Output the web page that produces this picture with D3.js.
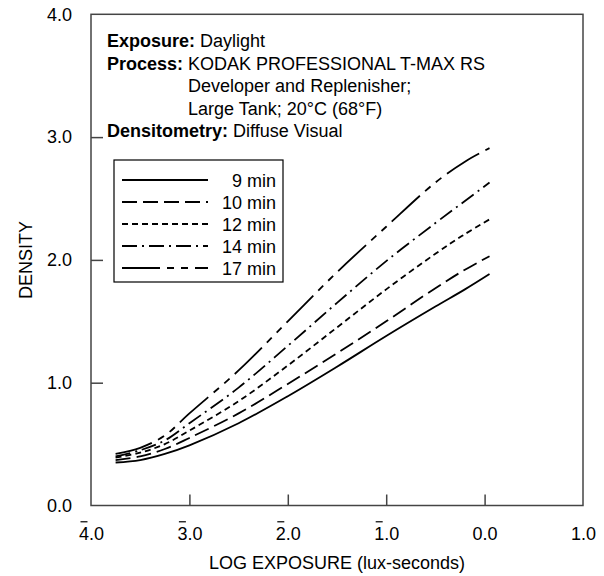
<!DOCTYPE html>
<html><head><meta charset="utf-8">
<script src="https://cdn.jsdelivr.net/npm/d3@7"></script>
<style>body{margin:0;background:#fff}svg{display:block}text{font-family:"Liberation Sans",Arial,Helvetica,sans-serif;fill:#000}</style>
</head><body><div id="chart"></div>
<script>
// ---- data ----
const xTicks = [-4, -3, -2, -1, 0, 1];
const xTickLabels = ["4.0", "3.0", "2.0", "1.0", "0.0", "1.0"];
const xTickBar = [true, true, true, true, false, false];
const yTicks = [0, 1, 2, 3, 4];
const yTickLabels = ["0.0", "1.0", "2.0", "3.0", "4.0"];
const logE = [-3.75, -3.5, -3.25, -3.0, -2.5, -2.0, -1.5, -1.0, -0.5, -0.2, 0.05];
const seriesNames = ["9 min", "10 min", "12 min", "14 min", "17 min"];
const d9  = [0.35, 0.37, 0.42, 0.49, 0.67, 0.89, 1.13, 1.38, 1.62, 1.76, 1.885];
const d10 = [0.37, 0.40, 0.46, 0.55, 0.75, 0.99, 1.24, 1.50, 1.77, 1.92, 2.03];
const d12 = [0.39, 0.43, 0.50, 0.61, 0.85, 1.14, 1.45, 1.76, 2.05, 2.21, 2.33];
const d14 = [0.40, 0.45, 0.53, 0.67, 0.96, 1.30, 1.65, 1.99, 2.30, 2.48, 2.63];
const d17 = [0.42, 0.47, 0.57, 0.75, 1.10, 1.50, 1.90, 2.27, 2.63, 2.80, 2.91];
const seriesValues = [d9, d10, d12, d14, d17];
const dashes = ["none", "15,6", "6,4", "15,5,2,5", "38,7,7,7,7,7"];

// ---- layout ----
const W = 604, H = 576;
const L = 91, R = 583, T = 14.3, B = 505.5;
const FS = 18;

const svg = d3.select("#chart").append("svg").attr("width", W).attr("height", H);
const x = d3.scaleLinear().domain([-4, 1]).range([L, R]);
const y = d3.scaleLinear().domain([0, 4]).range([B, T]);

const axisColor = "#444";
// frame
svg.append("rect").attr("x", L).attr("y", T).attr("width", R - L).attr("height", B - T)
  .attr("fill", "none").attr("stroke", axisColor).attr("stroke-width", 1.5);

// x axis (inward ticks)
const xAxis = svg.append("g").attr("transform", `translate(0,${B})`)
  .call(d3.axisBottom(x).tickValues(xTicks).tickSizeInner(-11).tickSizeOuter(0)
    .tickFormat((d, i) => xTickLabels[i]).tickPadding(22));
xAxis.select(".domain").remove();
xAxis.selectAll(".tick line").attr("stroke", axisColor).attr("stroke-width", 1.5)
  .filter(d => d === -4 || d === 1).remove();
xAxis.selectAll(".tick text").attr("font-size", FS).attr("fill", "#000")
  .attr("font-family", '"Liberation Sans",Arial,sans-serif');
xAxis.selectAll(".tick").each(function(d, i) {
  if (!xTickBar[i]) return;
  const t = d3.select(this).select("text").node();
  const ext = t.getExtentOfChar(0);
  const cx = ext.x + ext.width / 2;
  d3.select(this).append("line")
    .attr("x1", cx - 3.5).attr("x2", cx + 3.5)
    .attr("y1", ext.y - 2.5).attr("y2", ext.y - 2.5)
    .attr("stroke", "#000").attr("stroke-width", 1.2);
});

// y axis
const yAxis = svg.append("g").attr("transform", `translate(${L},0)`)
  .call(d3.axisLeft(y).tickValues(yTicks).tickSizeInner(-12).tickSizeOuter(0)
    .tickFormat((d, i) => yTickLabels[i]).tickPadding(19));
yAxis.select(".domain").remove();
yAxis.selectAll(".tick line").attr("stroke", axisColor).attr("stroke-width", 1.5)
  .filter(d => d === 0 || d === 4).remove();
yAxis.selectAll(".tick text").attr("font-size", FS).attr("fill", "#000")
  .attr("font-family", '"Liberation Sans",Arial,sans-serif');

// axis titles
svg.append("text").attr("x", (L + R) / 2).attr("y", 569).attr("text-anchor", "middle")
  .attr("font-size", FS).text("LOG EXPOSURE (lux-seconds)");
svg.append("text").attr("transform", `translate(32,${(T + B) / 2}) rotate(-90)`)
  .attr("text-anchor", "middle").attr("font-size", FS).text("DENSITY");

// annotation block
const ann = svg.append("g");
const tx = 107;
function labelLine(yy, bold, rest) {
  const t = ann.append("text").attr("x", tx).attr("y", yy).attr("font-size", FS);
  t.append("tspan").attr("font-weight", "bold").text(bold);
  t.append("tspan").text(" " + rest);
  return t;
}
labelLine(47, "Exposure:", "Daylight");
const pt = labelLine(69.5, "Process:", "KODAK PROFESSIONAL T-MAX RS");
const contX = pt.node().getStartPositionOfChar("Process: ".length).x;
ann.append("text").attr("x", contX).attr("y", 92).attr("font-size", FS).text("Developer and Replenisher;");
ann.append("text").attr("x", contX).attr("y", 114.5).attr("font-size", FS).text("Large Tank; 20°C (68°F)");
labelLine(137, "Densitometry:", "Diffuse Visual");

// curves
const line = d3.line().x(d => x(d[0])).y(d => y(d[1])).curve(d3.curveCatmullRom.alpha(0.5));
seriesValues.forEach((vals, i) => {
  svg.append("path").datum(logE.map((e, j) => [e, vals[j]]))
    .attr("d", line).attr("fill", "none").attr("stroke", "#000")
    .attr("stroke-width", 1.8).attr("stroke-dasharray", dashes[i]);
});

// legend
const lg = svg.append("g");
const lx = 114, ly = 160, lw = 169, lh = 122;
lg.append("rect").attr("x", lx).attr("y", ly).attr("width", lw).attr("height", lh)
  .attr("fill", "#fff").attr("stroke", "#000").attr("stroke-width", 1.2);
seriesNames.forEach((n, i) => {
  const yy = ly + 20 + i * 22;
  lg.append("line").attr("x1", lx + 8).attr("x2", lx + 94).attr("y1", yy).attr("y2", yy)
    .attr("stroke", "#000").attr("stroke-width", 1.8).attr("stroke-dasharray", dashes[i]);
  lg.append("text").attr("x", lx + lw - 7).attr("y", yy + 6.5).attr("text-anchor", "end")
    .attr("font-size", FS).text(n);
});
</script></body></html>
